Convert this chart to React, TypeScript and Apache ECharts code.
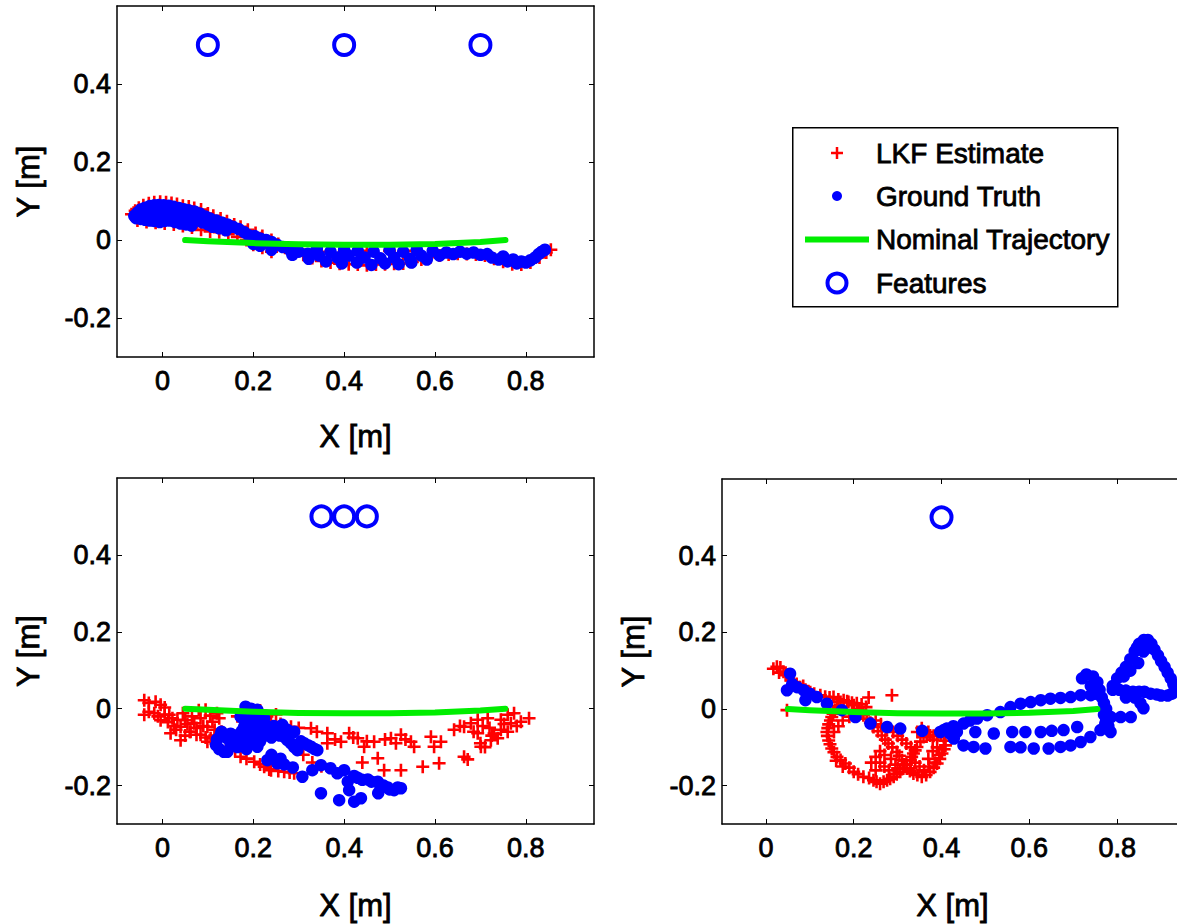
import React, { useEffect, useRef } from "react";
import * as echarts from "echarts";

// ---------- data ----------
const X_TICKS = [0, 0.2, 0.4, 0.6, 0.8];
const Y_TICKS = [-0.2, 0, 0.2, 0.4];

const NOMINAL_X = [0.05, 0.1, 0.2, 0.3, 0.4, 0.5, 0.6, 0.7, 0.755];
const NOMINAL_Y = [0, -0.003, -0.008, -0.011, -0.012, -0.012, -0.01, -0.005, 0];

const FEATURES_1 = [[0.1, 0.5], [0.4, 0.5], [0.7, 0.5]];
const FEATURES_2 = [[0.35, 0.5], [0.4, 0.5], [0.45, 0.5]];
const FEATURES_3 = [[0.4, 0.5]];

const LKF_1 = [
  [-0.068, 0.066], [-0.06, 0.075], [-0.052, 0.083], [-0.042, 0.089], [-0.03, 0.094], [-0.018, 0.097], [-0.005, 0.098], [0.008, 0.097],
  [0.02, 0.095], [0.032, 0.092], [0.045, 0.088], [0.058, 0.086], [0.07, 0.082], [0.085, 0.078], [0.1, 0.068], [0.112, 0.062],
  [0.128, 0.055], [0.142, 0.048], [0.158, 0.04], [0.172, 0.034], [0.188, 0.026], [0.205, 0.018], [0.22, 0.01], [0.24, 0.0],
  [0.255, -0.01], [0.27, -0.02], [0.29, -0.03], [0.31, -0.038], [0.33, -0.046], [0.35, -0.054], [0.37, -0.058], [0.39, -0.061],
  [0.41, -0.062], [0.43, -0.063], [0.45, -0.065], [0.47, -0.063], [0.49, -0.062], [0.51, -0.061], [0.53, -0.06], [0.55, -0.056],
  [0.57, -0.05], [0.59, -0.044], [0.61, -0.04], [0.63, -0.037], [0.65, -0.035], [0.67, -0.036], [0.69, -0.037], [0.71, -0.04],
  [0.73, -0.048], [0.75, -0.056], [0.77, -0.062], [0.79, -0.063], [0.81, -0.058], [0.83, -0.045], [0.845, -0.032], [0.855, -0.025],
  [-0.055, 0.05], [-0.035, 0.046], [-0.015, 0.044], [0.005, 0.042], [0.025, 0.04], [0.045, 0.036], [0.065, 0.032], [0.085, 0.026],
  [0.105, 0.022], [0.125, 0.02], [0.145, 0.015], [0.165, 0.008], [0.185, 0.0], [0.2, -0.012], [0.22, -0.02], [0.24, -0.03],
  [0.3, -0.025], [0.35, -0.03], [0.4, -0.03], [0.45, -0.028], [0.5, -0.028], [0.55, -0.028], [0.6, -0.03],
];

const GT_1 = [
  [-0.062, 0.062], [-0.055, 0.07], [-0.048, 0.078], [-0.038, 0.083], [-0.028, 0.087], [-0.018, 0.089], [-0.008, 0.09], [0.003, 0.089],
  [0.014, 0.088], [0.025, 0.085], [0.036, 0.082], [0.047, 0.079], [0.058, 0.076], [0.07, 0.073], [0.082, 0.068], [0.095, 0.06],
  [-0.058, 0.056], [-0.048, 0.054], [-0.038, 0.052], [-0.028, 0.05], [-0.018, 0.049], [-0.006, 0.046], [0.005, 0.049], [0.016, 0.05],
  [0.028, 0.046], [0.04, 0.042], [0.052, 0.04], [0.064, 0.037],
  [-0.045, 0.065], [-0.03, 0.068], [-0.015, 0.07], [0.0, 0.072], [0.015, 0.068], [0.03, 0.062], [0.045, 0.058], [0.06, 0.055],
  [0.075, 0.05], [0.088, 0.045], [0.1, 0.04],
  [0.105, 0.055], [0.118, 0.05], [0.13, 0.045], [0.143, 0.04], [0.155, 0.034], [0.11, 0.034], [0.125, 0.03], [0.14, 0.025],
  [0.168, 0.028], [0.18, 0.02], [0.19, 0.012], [0.203, 0.01], [0.215, 0.004], [0.228, 0.0], [0.2, -0.01], [0.215, -0.015],
  [0.24, -0.005], [0.252, -0.012], [0.24, -0.025], [0.265, -0.018], [0.28, -0.025], [0.286, -0.038], [0.3, -0.03], [0.32, -0.035],
  [0.322, -0.048], [0.34, -0.022], [0.345, -0.04], [0.36, -0.055], [0.37, -0.03], [0.385, -0.045], [0.395, -0.06], [0.4, -0.025],
  [0.41, -0.04], [0.428, -0.058], [0.43, -0.028], [0.445, -0.045], [0.46, -0.064], [0.465, -0.03], [0.48, -0.047], [0.49, -0.06],
  [0.5, -0.025], [0.51, -0.045], [0.52, -0.062], [0.53, -0.03], [0.545, -0.048], [0.548, -0.058], [0.56, -0.025], [0.57, -0.04],
  [0.582, -0.05], [0.595, -0.028], [0.61, -0.04], [0.625, -0.032], [0.64, -0.036], [0.655, -0.03], [0.67, -0.035], [0.685, -0.032],
  [0.7, -0.038], [0.715, -0.036], [0.725, -0.045], [0.74, -0.05], [0.75, -0.042], [0.76, -0.055], [0.772, -0.05], [0.78, -0.06],
  [0.79, -0.055], [0.8, -0.058], [0.81, -0.052], [0.82, -0.045], [0.828, -0.036], [0.835, -0.03], [0.842, -0.025],
];

const LKF_2 = [
  [-0.04, 0.022], [-0.03, 0.015], [-0.015, 0.018], [-0.004, 0.01], [0.005, 0.003], [-0.04, -0.016], [-0.03, -0.008], [-0.018, -0.012],
  [-0.01, -0.02], [-0.004, -0.03], [0.005, -0.015], [0.015, -0.016], [0.012, -0.035], [0.022, -0.025], [0.025, -0.045], [0.033, -0.029],
  [0.04, -0.047], [0.045, -0.012], [0.05, -0.03], [0.055, -0.04], [0.06, -0.06], [0.065, -0.02], [0.07, -0.038], [0.075, -0.05],
  [0.08, -0.004], [0.084, -0.025], [0.09, -0.045], [0.095, -0.003], [0.099, -0.047], [0.105, -0.018], [0.11, -0.034], [0.115, -0.055],
  [0.12, -0.012], [0.125, -0.025], [0.018, -0.064], [0.03, -0.055], [0.04, -0.082], [0.05, -0.07], [0.062, -0.06], [0.075, -0.068],
  [0.084, -0.068], [0.095, -0.075], [0.099, -0.086], [0.106, -0.077], [0.115, -0.07],
  [0.13, -0.06], [0.14, -0.08], [0.15, -0.1], [0.16, -0.11], [0.172, -0.125], [0.185, -0.13], [0.202, -0.138], [0.215, -0.145],
  [0.224, -0.151], [0.235, -0.158], [0.239, -0.16], [0.255, -0.162], [0.268, -0.164], [0.28, -0.166], [0.29, -0.168], [0.2, -0.01],
  [0.215, -0.005], [0.23, -0.02], [0.25, -0.015], [0.165, -0.02], [0.185, -0.045],
  [0.239, -0.034], [0.26, -0.04], [0.283, -0.047], [0.3, -0.05], [0.327, -0.051], [0.34, -0.06], [0.363, -0.064], [0.363, -0.09],
  [0.38, -0.08], [0.393, -0.086], [0.411, -0.064], [0.42, -0.075], [0.43, -0.077], [0.444, -0.099], [0.45, -0.085], [0.466, -0.086],
  [0.474, -0.129], [0.488, -0.16], [0.49, -0.08], [0.503, -0.077], [0.514, -0.09], [0.525, -0.068], [0.525, -0.16], [0.535, -0.08],
  [0.547, -0.086], [0.554, -0.099], [0.573, -0.151], [0.591, -0.073], [0.598, -0.099], [0.609, -0.142], [0.613, -0.086], [0.44, -0.14],
  [0.31, -0.12], [0.33, -0.14], [0.35, -0.15],
  [0.642, -0.055], [0.655, -0.045], [0.664, -0.047], [0.664, -0.125], [0.672, -0.132], [0.679, -0.038], [0.685, -0.06], [0.694, -0.029],
  [0.694, -0.064], [0.701, -0.099], [0.705, -0.045], [0.716, -0.025], [0.72, -0.05], [0.723, -0.082], [0.73, -0.065], [0.738, -0.077],
  [0.745, -0.029], [0.745, -0.055], [0.752, -0.04], [0.76, -0.016], [0.76, -0.06], [0.767, -0.038], [0.774, -0.012], [0.78, -0.045],
  [0.789, -0.034], [0.807, -0.025], [0.7, -0.09], [0.71, -0.1], [0.725, -0.07],
];

const GT_2 = [
  [0.183, 0.005], [0.195, 0.0], [0.209, -0.003], [0.2, -0.012], [0.224, -0.025], [0.172, -0.021], [0.185, -0.03], [0.18, -0.047],
  [0.195, -0.04], [0.21, -0.05], [0.264, -0.042], [0.13, -0.06], [0.128, -0.068], [0.12, -0.08], [0.118, -0.095], [0.125, -0.105],
  [0.135, -0.112], [0.143, -0.112], [0.14, -0.075], [0.15, -0.065], [0.15, -0.09], [0.158, -0.09], [0.16, -0.07], [0.165, -0.1],
  [0.17, -0.08], [0.175, -0.058], [0.18, -0.082], [0.185, -0.105], [0.19, -0.068], [0.195, -0.09], [0.202, -0.073], [0.209, -0.099],
  [0.215, -0.085], [0.22, -0.06], [0.225, -0.07], [0.231, -0.064], [0.24, -0.075], [0.253, -0.055], [0.258, -0.07], [0.268, -0.073],
  [0.275, -0.082], [0.283, -0.09], [0.29, -0.1], [0.297, -0.108], [0.305, -0.085], [0.312, -0.09], [0.32, -0.095], [0.327, -0.099],
  [0.335, -0.105], [0.341, -0.108], [0.231, -0.134], [0.253, -0.142], [0.268, -0.145], [0.287, -0.153], [0.308, -0.177], [0.33, -0.16],
  [0.349, -0.147], [0.349, -0.22], [0.37, -0.155], [0.385, -0.168], [0.4, -0.16], [0.408, -0.19], [0.422, -0.175], [0.389, -0.238],
  [0.411, -0.212], [0.422, -0.242], [0.437, -0.233], [0.43, -0.18], [0.44, -0.185], [0.452, -0.184], [0.46, -0.19], [0.474, -0.19],
  [0.475, -0.22], [0.48, -0.205], [0.487, -0.2], [0.496, -0.205], [0.5, -0.21], [0.51, -0.212], [0.518, -0.205], [0.525, -0.207],
  [0.21, -0.02], [0.225, -0.04], [0.245, -0.045], [0.275, -0.055], [0.29, -0.06], [0.24, -0.12], [0.26, -0.13],
];

const LKF_3 = [
  [0.017, 0.105], [0.025, 0.11], [0.033, 0.108], [0.03, 0.095], [0.04, 0.097], [0.045, 0.088], [0.052, 0.09], [0.058, 0.075],
  [0.063, 0.07], [0.07, 0.065], [0.078, 0.057], [0.085, 0.06], [0.09, 0.05], [0.101, 0.044], [0.11, 0.04], [0.124, 0.036],
  [0.135, 0.032], [0.145, 0.03], [0.154, 0.031], [0.165, 0.025], [0.177, 0.023], [0.188, 0.018], [0.2, 0.01], [0.21, 0.0],
  [0.215, -0.008], [0.222, -0.016], [0.23, -0.025], [0.238, -0.036], [0.245, -0.047], [0.255, -0.058], [0.264, -0.069], [0.272, -0.08],
  [0.279, -0.09], [0.288, -0.1], [0.298, -0.112], [0.304, -0.122], [0.31, -0.134], [0.315, -0.145], [0.321, -0.155], [0.328, -0.162],
  [0.336, -0.168], [0.345, -0.172], [0.355, -0.177], [0.365, -0.172], [0.374, -0.164], [0.382, -0.153], [0.39, -0.142], [0.396, -0.13],
  [0.401, -0.116], [0.406, -0.105], [0.409, -0.095], [0.408, -0.083], [0.405, -0.073], [0.398, -0.068], [0.39, -0.07], [0.382, -0.07],
  [0.374, -0.069], [0.366, -0.072], [0.359, -0.073], [0.352, -0.085], [0.344, -0.099], [0.34, -0.108], [0.336, -0.116], [0.332, -0.125],
  [0.329, -0.134], [0.32, -0.145], [0.313, -0.155], [0.306, -0.164], [0.298, -0.17], [0.291, -0.177], [0.283, -0.182], [0.276, -0.186],
  [0.268, -0.19], [0.26, -0.195], [0.252, -0.19], [0.245, -0.186], [0.235, -0.18], [0.222, -0.177], [0.21, -0.17], [0.2, -0.164],
  [0.19, -0.153], [0.181, -0.142], [0.17, -0.133], [0.162, -0.125], [0.155, -0.113], [0.15, -0.103], [0.146, -0.092], [0.143, -0.082],
  [0.14, -0.07], [0.139, -0.06], [0.141, -0.05], [0.143, -0.04], [0.147, -0.03], [0.15, -0.021], [0.153, -0.012], [0.157, -0.003],
  [0.162, 0.008], [0.17, 0.018], [0.185, 0.02], [0.196, 0.016], [0.207, 0.015], [0.218, 0.012], [0.228, 0.005], [0.234, 0.03],
  [0.287, 0.036], [0.048, -0.003],
  [0.25, -0.03], [0.262, -0.04], [0.275, -0.05], [0.29, -0.06], [0.3, -0.07], [0.31, -0.08], [0.32, -0.09], [0.33, -0.1],
  [0.345, -0.06], [0.355, -0.05], [0.37, -0.06], [0.38, -0.08], [0.39, -0.1], [0.395, -0.12], [0.385, -0.14], [0.372, -0.15],
  [0.36, -0.16], [0.35, -0.15], [0.37, -0.13], [0.38, -0.11], [0.34, -0.14], [0.33, -0.155], [0.295, -0.145], [0.3, -0.155],
  [0.285, -0.13], [0.27, -0.12], [0.26, -0.11], [0.25, -0.125], [0.24, -0.14], [0.27, -0.15], [0.28, -0.16], [0.25, -0.16],
  [0.26, -0.14], [0.175, -0.03], [0.19, -0.02], [0.165, -0.045], [0.155, -0.06], [0.16, -0.135], [0.175, -0.15],
];

const GT_3 = [
  [0.055, 0.092], [0.048, 0.049], [0.06, 0.065], [0.071, 0.057], [0.086, 0.049], [0.09, 0.023], [0.1, 0.04], [0.116, 0.031],
  [0.139, 0.014], [0.173, -0.003], [0.204, -0.021], [0.238, -0.038], [0.276, -0.047], [0.306, -0.051], [0.356, -0.057], [0.397, -0.06],
  [0.405, -0.055], [0.412, -0.051], [0.42, -0.065], [0.427, -0.045], [0.435, -0.06], [0.45, -0.038], [0.428, -0.077], [0.45, -0.095],
  [0.473, -0.099], [0.5, -0.103], [0.465, -0.03], [0.481, -0.025], [0.504, -0.016], [0.534, -0.008], [0.557, 0.005], [0.58, 0.014],
  [0.603, 0.018], [0.626, 0.023], [0.648, 0.027], [0.671, 0.029], [0.694, 0.031], [0.717, 0.036], [0.74, 0.036], [0.477, -0.06],
  [0.519, -0.064], [0.561, -0.06], [0.591, -0.06], [0.626, -0.06], [0.651, -0.057], [0.678, -0.055], [0.709, -0.047], [0.557, -0.099],
  [0.58, -0.1], [0.61, -0.103], [0.644, -0.103], [0.671, -0.099], [0.694, -0.095], [0.717, -0.086], [0.739, -0.073], [0.762, -0.055],
  [0.773, -0.038],
  [0.72, 0.08], [0.73, 0.09], [0.745, 0.085], [0.74, 0.06], [0.755, 0.07], [0.76, 0.05], [0.75, 0.04], [0.765, 0.03],
  [0.77, 0.015], [0.775, 0.0], [0.77, -0.015], [0.775, -0.03], [0.78, -0.045], [0.785, -0.06], [0.79, 0.06], [0.8, 0.08],
  [0.81, 0.095], [0.82, 0.11], [0.83, 0.13], [0.84, 0.15], [0.85, 0.17], [0.861, 0.18], [0.87, 0.18], [0.878, 0.17],
  [0.885, 0.155], [0.893, 0.14], [0.9, 0.125], [0.908, 0.11], [0.915, 0.095], [0.922, 0.08], [0.928, 0.065], [0.932, 0.05],
  [0.925, 0.04], [0.915, 0.035], [0.9, 0.035], [0.89, 0.038], [0.876, 0.04], [0.862, 0.045], [0.85, 0.045], [0.836, 0.045],
  [0.82, 0.048], [0.805, 0.05], [0.79, 0.05], [0.82, 0.03], [0.84, 0.03], [0.853, 0.015], [0.86, 0.002], [0.786, -0.021],
  [0.808, -0.021], [0.831, -0.021], [0.845, 0.16], [0.856, 0.165], [0.848, 0.12], [0.83, 0.1], [0.815, 0.085], [0.86, 0.15],
  [0.87, 0.16],
];

const LEGEND_LABELS = ["LKF Estimate", "Ground Truth", "Nominal Trajectory", "Features"];

// ---------- styling ----------
const FONT = "'Liberation Sans', Arial, Helvetica, sans-serif";
const RED = "#ff0000";
const BLUE = "#0000ff";
const GREEN = "#00ee00";
const PLUS = "path://M0,-1L0,1M-1,0L1,0";

const GRIDS = [
  { left: 117, top: 6, width: 477, height: 351 },
  { left: 117, top: 478, width: 477, height: 346 },
  { left: 722, top: 479, width: 461, height: 345 },
];
const PANELS = [
  { lkf: LKF_1, gt: GT_1, feat: FEATURES_1, xGap: 64 },
  { lkf: LKF_2, gt: GT_2, feat: FEATURES_2, xGap: 66 },
  { lkf: LKF_3, gt: GT_3, feat: FEATURES_3, xGap: 66 },
];

const fmt = (v: number) => String(Math.round(v * 10) / 10);

function buildOption() {
  const grid: any[] = [];
  const xAxis: any[] = [];
  const yAxis: any[] = [];
  const series: any[] = [];
  const nominal = NOMINAL_X.map((x, i) => [x, NOMINAL_Y[i]]);
  const heavy = { textBorderColor: "#000", textBorderWidth: 0.8 };
  const labelStyle = { fontSize: 27, color: "#000", fontFamily: FONT, ...heavy };
  const nameStyle = { fontSize: 31, color: "#000", fontFamily: FONT, ...heavy };

  PANELS.forEach((p, i) => {
    grid.push({ ...GRIDS[i], outerBoundsMode: "none", containLabel: false });
    const axisLine = { show: true, onZero: false, lineStyle: { color: "#000", width: 1.5 } };
    const tick = (vals: number[]) => ({
      show: true, inside: true, length: 5, customValues: vals, lineStyle: { color: "#000", width: 1 },
    });
    xAxis.push({
      type: "value", gridIndex: i, position: "bottom", min: -0.1, max: 0.95,
      axisLine, axisTick: tick(X_TICKS), splitLine: { show: false },
      axisLabel: { customValues: X_TICKS, formatter: fmt, margin: 10, ...labelStyle },
      name: "X [m]", nameLocation: "middle", nameGap: p.xGap, nameMoveOverlap: false,
      nameTextStyle: nameStyle,
    });
    xAxis.push({
      type: "value", gridIndex: i, position: "top", min: -0.1, max: 0.95,
      axisLine, axisTick: tick(X_TICKS), splitLine: { show: false }, axisLabel: { show: false },
    });
    yAxis.push({
      type: "value", gridIndex: i, position: "left", min: -0.3, max: 0.6,
      axisLine, axisTick: tick(Y_TICKS), splitLine: { show: false },
      axisLabel: { customValues: Y_TICKS, formatter: fmt, margin: 6, ...labelStyle },
      name: "Y [m]", nameLocation: "middle", nameGap: 73, nameRotate: 90, nameMoveOverlap: false,
      nameTextStyle: nameStyle,
    });
    yAxis.push({
      type: "value", gridIndex: i, position: "right", min: -0.3, max: 0.6,
      axisLine, axisTick: tick(Y_TICKS), splitLine: { show: false }, axisLabel: { show: false },
    });
    const xi = i * 2;
    const yi = i * 2;
    series.push({
      name: "LKF Estimate", type: "scatter", xAxisIndex: xi, yAxisIndex: yi, data: p.lkf, z: 2,
      symbol: PLUS, symbolSize: 13,
      itemStyle: { color: RED, borderColor: RED, borderWidth: 2.6, opacity: 1 },
    });
    series.push({
      name: "Ground Truth", type: "scatter", xAxisIndex: xi, yAxisIndex: yi, data: p.gt, z: 3,
      symbol: "circle", symbolSize: 12.5, itemStyle: { color: BLUE, opacity: 1 },
    });
    series.push({
      name: "Nominal Trajectory", type: "line", xAxisIndex: xi, yAxisIndex: yi, data: nominal, z: 4,
      showSymbol: false, symbol: "none", lineStyle: { color: GREEN, width: 6, cap: "round", join: "round" },
    });
    series.push({
      name: "Features", type: "scatter", xAxisIndex: xi, yAxisIndex: yi, data: p.feat, z: 5,
      symbol: "circle", symbolSize: 20,
      itemStyle: { color: "rgba(0,0,0,0)", borderColor: BLUE, borderWidth: 4, opacity: 1 },
    });
  });

  // legend box (drawn with graphic elements)
  const lx = 837;
  const rows = [153, 196, 239.5, 283];
  const graphic: any[] = [
    { type: "rect", left: 792, top: 127, shape: { width: 325, height: 179 },
      style: { fill: "#fff", stroke: "#000", lineWidth: 1.5 }, z: 10 },
    { type: "line", shape: { x1: lx - 6, y1: rows[0], x2: lx + 6, y2: rows[0] }, style: { stroke: RED, lineWidth: 2.5 }, z: 11 },
    { type: "line", shape: { x1: lx, y1: rows[0] - 6, x2: lx, y2: rows[0] + 6 }, style: { stroke: RED, lineWidth: 2.5 }, z: 11 },
    { type: "circle", shape: { cx: lx, cy: rows[1], r: 5 }, style: { fill: BLUE }, z: 11 },
    { type: "line", shape: { x1: 805, y1: rows[2], x2: 869, y2: rows[2] }, style: { stroke: GREEN, lineWidth: 6 }, z: 11 },
    { type: "circle", shape: { cx: lx, cy: rows[3], r: 9.5 }, style: { fill: "none", stroke: BLUE, lineWidth: 4 }, z: 11 },
  ];
  LEGEND_LABELS.forEach((t, k) => {
    graphic.push({
      type: "text", x: 876, y: rows[k], z: 11,
      style: { text: t, fontSize: 28, fontFamily: FONT, fill: "#000", stroke: "#000", lineWidth: 0.8,
        verticalAlign: "middle", align: "left" },
    });
  });

  return { animation: false, backgroundColor: "#fff", grid, xAxis, yAxis, series, graphic };
}

export default function App() {
  const ref = useRef<HTMLDivElement>(null);
  useEffect(() => {
    if (!ref.current) return;
    const chart = echarts.init(ref.current, undefined, { renderer: "svg" });
    chart.setOption(buildOption() as any);
    return () => chart.dispose();
  }, []);
  return (
    <div style={{ position: "fixed", left: 0, top: 0, width: 1177, height: 924, overflow: "hidden", background: "#fff" }}>
      <div ref={ref} style={{ width: 1190, height: 924 }} />
    </div>
  );
}
